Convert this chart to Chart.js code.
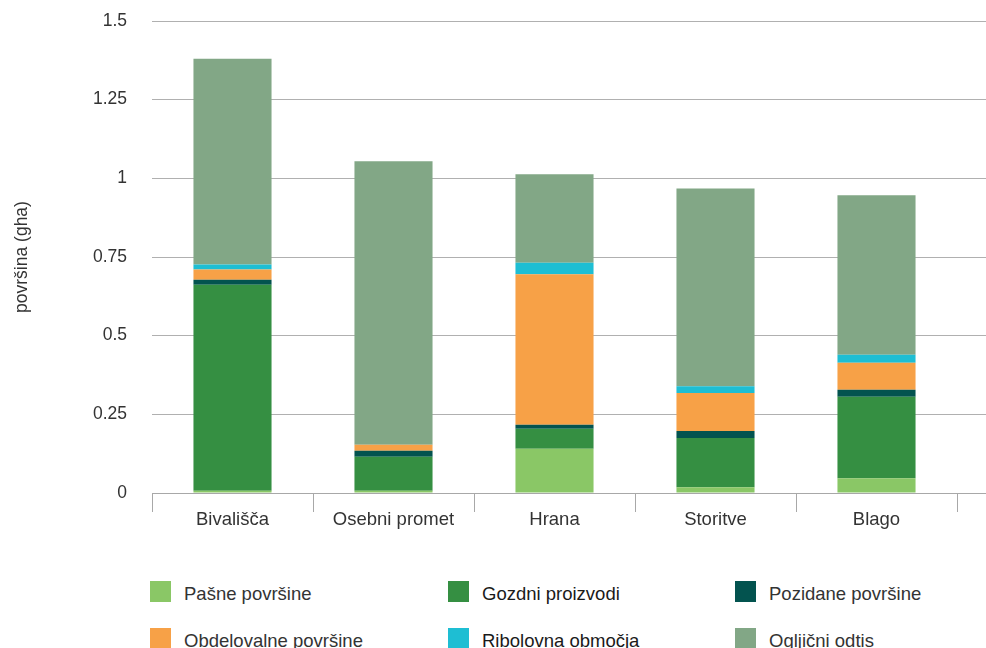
<!DOCTYPE html>
<html>
<head>
<meta charset="utf-8">
<script src="https://cdn.jsdelivr.net/npm/chart.js@4/dist/chart.umd.min.js"></script>
<style>
  html, body { margin: 0; padding: 0; background: #fff; width: 986px; height: 648px; overflow: hidden; }
  #wrap { position: absolute; left: 0; top: 0; width: 986px; height: 648px; overflow: hidden; }
  #chart { position: absolute; left: 0; top: 0; }
  #legend {
    position: absolute; left: 150px; top: 581px;
    display: grid; grid-template-columns: 298px 287px auto; grid-auto-rows: 46.7px;
    font-family: "Liberation Sans", Arial, sans-serif; font-size: 18.5px; color: #333;
  }
  .item { display: flex; align-items: flex-start; white-space: nowrap; }
  .box { width: 21px; height: 21px; margin-right: 13px; flex: none; }
  .item span { line-height: 24px; margin-top: 1px; }
  .item.dark span { color: #1a1a1a; }
</style>
</head>
<body>
<div id="wrap">
  <canvas id="chart" width="1118" height="533"></canvas>
  <div id="legend"></div>
</div>
<script>
// Categories (the trailing blank slot keeps the grid running past the last group)
const categories = ['Bivališča', 'Osebni promet', 'Hrana', 'Storitve', 'Blago', ''];

// Footprint components, gha per category
const pasnePovrsine      = [0.007, 0.007, 0.141, 0.018, 0.047];
const gozdniProizvodi    = [0.655, 0.108, 0.063, 0.157, 0.259];
const pozidanePovrsine   = [0.016, 0.019, 0.013, 0.022, 0.022];
const obdelovalnePovrsine= [0.032, 0.019, 0.478, 0.121, 0.086];
const ribolovnaObmocja   = [0.016, 0.000, 0.037, 0.021, 0.025];
const ogljicniOdtis      = [0.654, 0.901, 0.281, 0.629, 0.507];

// Value axis ticks
const yTicks = [0, 0.25, 0.5, 0.75, 1, 1.25, 1.5];
const yTitle = 'površina (gha)';

const series = [
  { label: 'Pašne površine',       data: pasnePovrsine,       color: '#8ac766' },
  { label: 'Gozdni proizvodi',     data: gozdniProizvodi,     color: '#358f42', dark: true },
  { label: 'Pozidane površine',    data: pozidanePovrsine,    color: '#03534f' },
  { label: 'Obdelovalne površine', data: obdelovalnePovrsine, color: '#f7a147' },
  { label: 'Ribolovna območja',    data: ribolovnaObmocja,    color: '#1ebed3', dark: true },
  { label: 'Ogljični odtis',       data: ogljicniOdtis,       color: '#82a786' }
];

const FAMILY = '"Liberation Sans", Arial, sans-serif';

new Chart(document.getElementById('chart'), {
  type: 'bar',
  data: {
    labels: categories,
    datasets: series.map(s => ({
      label: s.label,
      data: s.data,
      backgroundColor: s.color,
      borderWidth: 0,
      barPercentage: 0.485,
      categoryPercentage: 1
    }))
  },
  options: {
    responsive: false,
    animation: false,
    devicePixelRatio: 1,
    layout: { padding: { top: 21, right: 0, bottom: 0, left: 0 } },
    plugins: { legend: { display: false }, tooltip: { enabled: false } },
    scales: {
      x: {
        stacked: true,
        grid: { drawOnChartArea: false, drawTicks: true, tickLength: 19, color: '#a8a8a8', lineWidth: 1, offset: true },
        border: { display: true, color: '#a8a8a8', width: 1 },
        ticks: { color: '#333', font: { family: FAMILY, size: 18.5 }, padding: -3, maxRotation: 0, autoSkip: false },
        afterFit: s => { s.height = 40; s.paddingLeft = 0; s.paddingRight = 0; }
      },
      y: {
        stacked: true,
        min: 0,
        max: 1.5,
        afterBuildTicks: s => { s.ticks = yTicks.map(v => ({ value: v })); },
        grid: { drawTicks: false, color: '#b0b0b0', lineWidth: 1 },
        border: { display: false },
        ticks: { color: '#333', font: { family: FAMILY, size: 17.5 }, padding: 25, callback: v => String(v) },
        title: { display: true, text: yTitle, color: '#333', font: { family: FAMILY, size: 17.5 }, padding: { top: 12, bottom: 0 } },
        afterFit: s => { s.width = 152; s.paddingTop = 0; s.paddingBottom = 0; }
      }
    }
  }
});

// Legend in three columns, built from the same series
const legend = document.getElementById('legend');
series.forEach(s => {
  const item = document.createElement('div');
  item.className = 'item' + (s.dark ? ' dark' : '');
  const box = document.createElement('div');
  box.className = 'box';
  box.style.background = s.color;
  const txt = document.createElement('span');
  txt.textContent = s.label;
  item.appendChild(box);
  item.appendChild(txt);
  legend.appendChild(item);
});
</script>
</body>
</html>
